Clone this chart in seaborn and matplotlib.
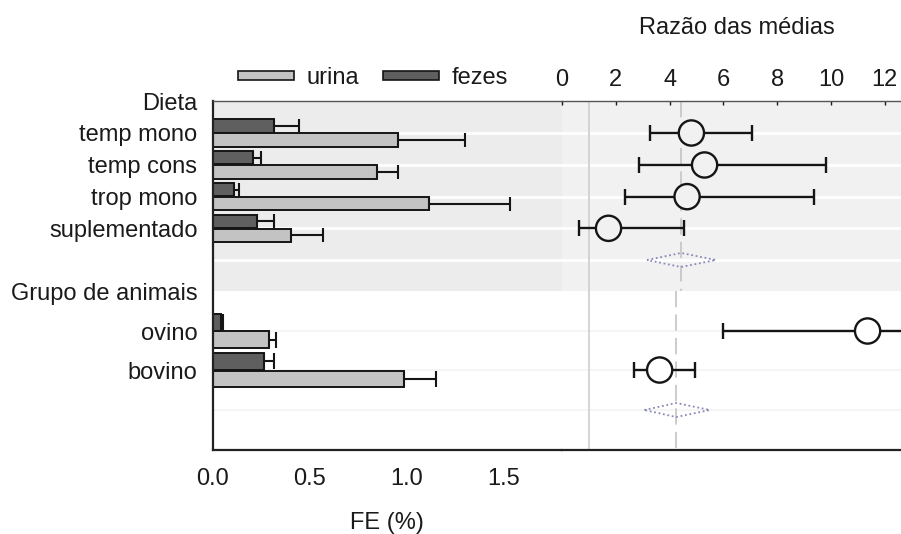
import numpy as np
import pandas as pd
import matplotlib
matplotlib.use("Agg")
import matplotlib.pyplot as plt
from matplotlib.patches import Patch, Polygon
import seaborn as sns

# ---------------- data ----------------
dieta_labels = ["temp mono", "temp cons", "trop mono", "suplementado"]
grupo_labels = ["ovino", "bovino"]
categories = dieta_labels + grupo_labels
sections = ["dieta"] * 4 + ["grupo"] * 2

urina_mean = [0.955, 0.846, 1.112, 0.402, 0.288, 0.987]
urina_upper = [1.300, 0.952, 1.529, 0.569, 0.326, 1.148]
fezes_mean = [0.316, 0.210, 0.110, 0.226, 0.045, 0.266]
fezes_upper = [0.444, 0.250, 0.135, 0.316, 0.052, 0.317]

ratio_est = [4.81, 5.30, 4.65, 1.73, 11.36, 3.63]
ratio_low = [3.28, 2.88, 2.33, 0.65, 5.97, 2.69]
ratio_high = [7.07, 9.81, 9.38, 4.55, 17.0, 4.93]

pooled_labels = ["Dieta", "Grupo de animais"]
pooled_est = [4.43, 4.25]
pooled_low = [3.16, 3.06]
pooled_high = [5.72, 5.49]

fe_ticks = [0.0, 0.5, 1.0, 1.5]
ratio_ticks = [0, 2, 4, 6, 8, 10, 12]
ref_value = 1

# ---------------- layout (row positions, y inverted) ----------------
header_pos = [0.0, 5.97]
cat_pos = [1.0, 2.0, 2.99, 3.98, 7.19, 8.41]
pooled_pos = [4.97, 9.66]
bar_half = {"dieta": 0.22, "grupo": 0.27}
band_end = 5.94
y_bottom = 10.91

sns.set_theme(style="white")
plt.rcParams["font.family"] = ["Liberation Sans", "DejaVu Sans"]
FS = 17
TXT = "#1a1a1a"
EDGE = "#151515"
C_URINA = "#c3c3c3"
C_FEZES = "#5f5f5f"

W, H = 901, 534
fig = plt.figure(figsize=(W / 100, H / 100), dpi=100)
x0, xm, x1 = 212.7, 562.0, 901.0
ytop, ybot = 101.0, 450.0
ax_b = fig.add_axes([x0 / W, 1 - ybot / H, (xm - x0) / W, (ybot - ytop) / H])
ax_f = fig.add_axes([xm / W, 1 - ybot / H, (x1 - xm) / W, (ybot - ytop) / H])

for ax, band in ((ax_b, "#ececec"), (ax_f, "#f1f1f1")):
    ax.set_facecolor("white")
    ax.axhspan(0, band_end, color=band, zorder=0, lw=0)
    for p, s in zip(cat_pos + pooled_pos, sections + ["dieta", "grupo"]):
        if s == "dieta":
            ax.axhline(p, color="white", lw=2, zorder=0.5)
        else:
            ax.axhline(p, color="#f5f5f5", lw=1.5, zorder=0.5)
    ax.set_ylim(y_bottom, 0)

# ---------------- bars ----------------
df = pd.DataFrame({
    "cat": categories, "sec": sections, "pos": cat_pos,
    "urina": urina_mean, "urina_up": urina_upper,
    "fezes": fezes_mean, "fezes_up": fezes_upper,
})
for _, r in df.iterrows():
    h = bar_half[r["sec"]]
    for col, up, color, sign in (("fezes", "fezes_up", C_FEZES, -1), ("urina", "urina_up", C_URINA, 1)):
        yc = r["pos"] + sign * h
        ax_b.barh(yc, r[col], height=2 * h - 0.03, color=color, edgecolor=EDGE, lw=1.4, zorder=2)
        ax_b.errorbar(r[col], yc, xerr=[[0], [r[up] - r[col]]], fmt="none", ecolor=EDGE,
                      elinewidth=1.5, capsize=5 if r["sec"] == "dieta" else 6, capthick=1.5, zorder=3)

ax_b.set_xlim(0, (xm - x0) / 194.2)
ax_b.set_xticks(fe_ticks)
ax_b.set_xticklabels([f"{t:.1f}" for t in fe_ticks])
ax_b.tick_params(axis="x", direction="in", length=3, pad=13, labelsize=FS, colors=TXT, width=1)
ax_b.set_xlabel("FE (%)", fontsize=FS, color=TXT, labelpad=16)
ax_b.set_yticks(cat_pos + header_pos)
ax_b.set_yticklabels(categories + pooled_labels)
ax_b.tick_params(axis="y", length=0, pad=11, labelsize=FS, colors=TXT)

for s in ("left", "bottom"):
    ax_b.spines[s].set_color("#222222")
    ax_b.spines[s].set_linewidth(1.6)
ax_b.spines["top"].set_color("#555555")
ax_b.spines["top"].set_linewidth(1.0)
ax_b.spines["right"].set_visible(False)

# ---------------- forest ----------------
est = np.array(ratio_est)
ax_f.axvline(ref_value, color="#cdcdcd", lw=1.2, zorder=1)
ax_f.plot([pooled_est[0]] * 2, [0, band_end], color="#c8c8c8", lw=1.3, dashes=(9, 4), zorder=1)
ax_f.plot([pooled_est[1]] * 2, [band_end, y_bottom], color="#c8c8c8", lw=1.3, dashes=(9, 4), zorder=1)

ax_f.errorbar(est, cat_pos, xerr=[est - np.array(ratio_low), np.array(ratio_high) - est],
              fmt="none", ecolor=EDGE, elinewidth=1.7, capsize=5.5, capthick=1.7, zorder=3)
fdf = pd.DataFrame({"est": ratio_est, "pos": cat_pos, "sec": sections})
sns.scatterplot(data=fdf, x="est", y="pos", hue="sec",
                palette={"dieta": "#f1f1f1", "grupo": "white"}, legend=False,
                s=330, edgecolor=EDGE, linewidth=1.7, zorder=4, ax=ax_f, clip_on=False)

for lo, e, hi, p in zip(pooled_low, pooled_est, pooled_high, pooled_pos):
    dh = 0.22
    ax_f.add_patch(Polygon([(lo, p), (e, p - dh), (hi, p), (e, p + dh)], closed=True,
                           fill=False, edgecolor="#8a8ab8", lw=1.3, ls=(0, (1, 1.5)), zorder=2))

ax_f.set_xlim(0, (x1 - xm) / 26.9)
ax_f.xaxis.set_ticks_position("top")
ax_f.xaxis.set_label_position("top")
ax_f.set_xticks(ratio_ticks)
ax_f.set_xticklabels([str(t) for t in ratio_ticks])
ax_f.tick_params(axis="x", direction="in", length=3, pad=7, labelsize=FS, colors=TXT, width=1,
                 top=True, bottom=False, labeltop=True, labelbottom=False)
ax_f.set_yticks([])
ax_f.set_xlabel("")
ax_f.set_ylabel("")
ax_f.spines["left"].set_visible(False)
ax_f.spines["right"].set_visible(False)
ax_f.spines["bottom"].set_color("#222222")
ax_f.spines["bottom"].set_linewidth(1.6)
ax_f.spines["top"].set_color("#555555")
ax_f.spines["top"].set_linewidth(1.0)

fig.text(736.7 / W, 1 - 28 / H, "Razão das médias", ha="center", va="center", fontsize=FS, color=TXT)

# ---------------- legend ----------------
handles = [Patch(facecolor=C_URINA, edgecolor=EDGE, lw=1.2, label="urina"),
           Patch(facecolor=C_FEZES, edgecolor=EDGE, lw=1.2, label="fezes")]
leg = fig.legend(handles=handles, loc="center left", bbox_to_anchor=(238 / W, 1 - 78 / H),
                 ncol=2, frameon=False, fontsize=FS, handlelength=2.37, handleheight=0.27,
                 handletextpad=0.55, columnspacing=1.0, borderpad=0, borderaxespad=0)
for t in leg.get_texts():
    t.set_color(TXT)

fig.savefig("out.png", dpi=100)
